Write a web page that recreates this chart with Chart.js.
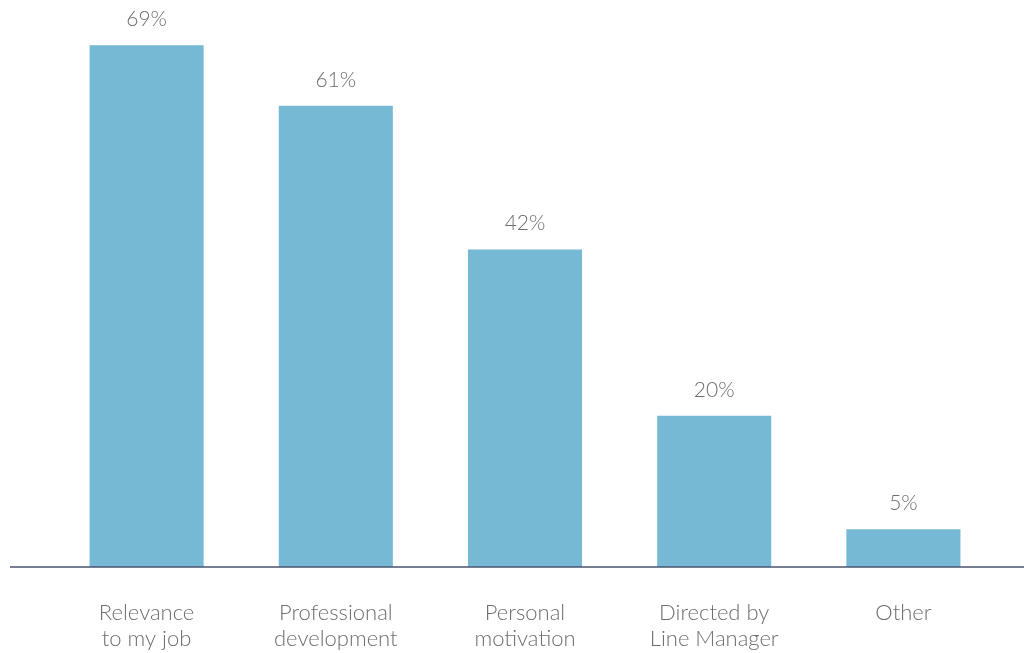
<!DOCTYPE html>
<html>
<head>
<meta charset="utf-8">
<title>Reasons for training</title>
<script src="https://cdn.jsdelivr.net/npm/chart.js@4/dist/chart.umd.min.js"></script>
<style>
  html, body { margin: 0; padding: 0; background: #fff; }
  #wrap { width: 1024px; height: 653px; position: relative; }
</style>
</head>
<body>
<div id="wrap"><canvas id="myChart"></canvas></div>
<script>
const categories = [
  ["Relevance", "to my job"],
  ["Professional", "development"],
  ["Personal", "motivation"],
  ["Directed by", "Line Manager"],
  ["Other"]
];
const percentages = [69, 61, 42, 20, 5];

const barColor = "#76b9d5";
const textColor = "#6e6e6e";
const fontFamily = "Lato, 'Open Sans', sans-serif";

// baseline runs the full canvas width, not just the chart area
const baselinePlugin = {
  id: "baseline",
  afterDatasetsDraw(chart) {
    const ctx = chart.ctx;
    const y = chart.scales.y.getPixelForValue(0);
    ctx.save();
    ctx.strokeStyle = "#48536f";
    ctx.lineWidth = 1.5;
    ctx.beginPath();
    ctx.moveTo(10, y);
    ctx.lineTo(chart.width, y);
    ctx.stroke();
    ctx.restore();
  }
};

// percentage above each bar
const valueLabels = {
  id: "valueLabels",
  afterDatasetsDraw(chart) {
    const ctx = chart.ctx;
    const meta = chart.getDatasetMeta(0);
    ctx.save();
    ctx.fillStyle = textColor;
    ctx.font = "300 21px " + fontFamily;
    ctx.textAlign = "center";
    ctx.textBaseline = "middle";
    meta.data.forEach((bar, i) => {
      ctx.fillText(percentages[i] + "%", bar.x, bar.y - 26);
    });
    ctx.restore();
  }
};

const ctx = document.getElementById("myChart");
new Chart(ctx, {
  type: "bar",
  data: {
    labels: categories,
    datasets: [{
      data: percentages,
      backgroundColor: barColor,
      borderWidth: 0,
      barPercentage: 1,
      categoryPercentage: 0.603
    }]
  },
  options: {
    responsive: true,
    maintainAspectRatio: false,
    animation: false,
    layout: { padding: { left: 52, right: 26, top: 0, bottom: 0 } },
    plugins: {
      legend: { display: false },
      tooltip: { enabled: false }
    },
    scales: {
      y: {
        display: false,
        min: 0,
        max: 75
      },
      x: {
        grid: { display: false },
        border: { display: false },
        afterFit(scale) { scale.height = 86; },
        ticks: {
          color: textColor,
          padding: 25,
          maxRotation: 0,
          autoSkip: false,
          font: { family: fontFamily, size: 22, weight: 300, lineHeight: 1.18 }
        }
      }
    }
  },
  plugins: [baselinePlugin, valueLabels]
});
</script>
</body>
</html>
